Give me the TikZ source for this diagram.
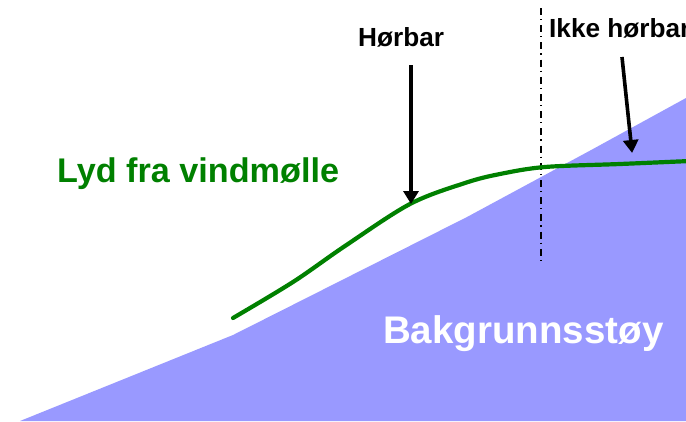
\documentclass[tikz,border=0pt]{standalone}
\usepackage{fontspec}
\setmainfont{Liberation Sans}
\usetikzlibrary{arrows.meta}
\definecolor{bgblue}{HTML}{9999FF}
\definecolor{lydgreen}{HTML}{008000}
\tikzset{
  lbl/.style={font=\bfseries, inner sep=0pt, anchor=base west},
  pointer/.style={line width=3.6pt, -{Triangle[length=13pt,width=15pt]}, shorten >=-1pt},
}
\begin{document}
\begin{tikzpicture}[x=1pt,y=-1pt]
\useasboundingbox (0,0) rectangle (686,421);
\clip (0,0) rectangle (686,421);
% background noise area
\fill[bgblue] (20,421) -- (233,335) -- (350,276) -- (467,217) -- (593,149) -- (686,98) -- (686,421) -- cycle;
% dash-dot separator
\draw[line width=1.3pt, dash pattern=on 7pt off 4pt on 1.2pt off 5pt] (541,8) -- (541,260);
% wind turbine sound curve
\draw[lydgreen, line width=4.2pt, line cap=round, line join=round]
  plot[smooth, tension=0.55] coordinates {(233,318) (293,282) (345,246) (410,204) (465,183) (500,174) (545,167) (620,164) (690,161)};
% labels
\node[lbl, text=lydgreen, font=\bfseries\fontsize{34.2}{37}\selectfont] (lyd) at (57,182) {Lyd fra vindmølle};
\node[lbl, text=white, font=\bfseries\fontsize{38.5}{41}\selectfont] (bak) at (383,343) {Bakgrunnsstøy};
\node[lbl, font=\bfseries\fontsize{26.2}{28}\selectfont] (hor) at (358,46) {Hørbar};
\node[lbl, font=\bfseries\fontsize{26.2}{28}\selectfont] (ikke) at (549,37) {Ikke hørbar};
% pointers
\coordinate (horS) at (411,65);
\coordinate (horT) at (411,203);
\coordinate (ikkeS) at (622,57);
\coordinate (ikkeT) at (632,152);
\draw[pointer] (horS) -- (horT);
\draw[pointer] (ikkeS) -- (ikkeT);
\end{tikzpicture}
\end{document}
